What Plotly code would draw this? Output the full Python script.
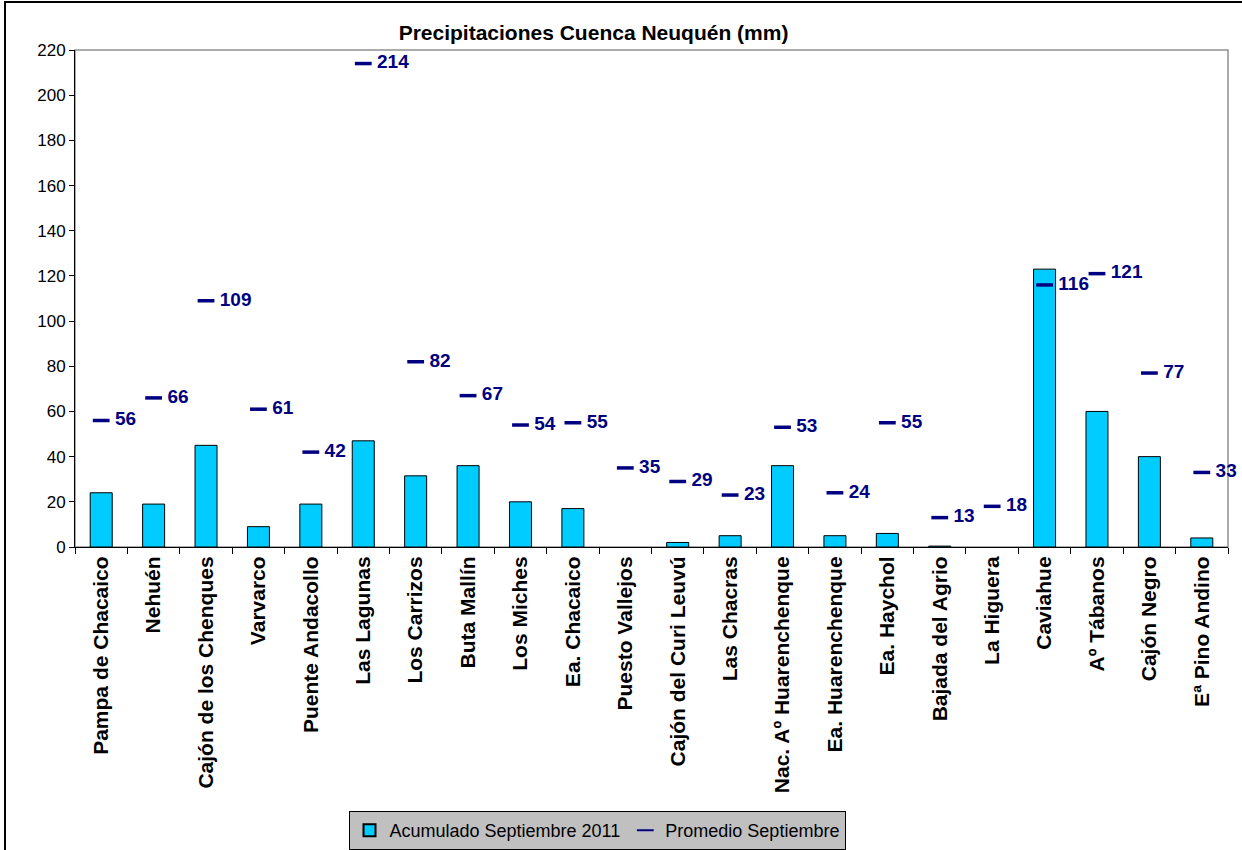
import plotly.graph_objects as go

estaciones = [
    "Pampa de Chacaico", "Nehuén", "Cajón de los Chenques", "Varvarco",
    "Puente Andacollo", "Las Lagunas", "Los Carrizos", "Buta Mallín",
    "Los Miches", "Ea. Chacaico", "Puesto Vallejos", "Cajón del Curi Leuvú",
    "Las Chacras", "Nac. Aº Huarenchenque", "Ea. Huarenchenque", "Ea. Haychol",
    "Bajada del Agrio", "La Higuera", "Caviahue", "Aº Tábanos",
    "Cajón Negro", "Eª Pino Andino",
]
# None = sin dato (no se dibuja barra)
acumulado_sep_2011 = [24, 19, 45, 9, 19, 47, 31.5, 36, 20, 17, None, 2,
                      5, 36, 5, 6, 0.4, None, 123, 60, 40, 4]
promedio_sep = [56, 66, 109, 61, 42, 214, 82, 67, 54, 55, 35, 29,
                23, 53, 24, 55, 13, 18, 116, 121, 77, 33]

W, H = 1242, 850
L, R, T, B = 75, 14, 50, 303
pw, ph = W - L - R, H - T - B


def px(x):
    return (x - L) / pw


def py(y):
    return (H - B - y) / ph


fuente = "Liberation Sans, Arial, sans-serif"

fig = go.Figure()

# barras: acumulado del mes
fig.add_trace(go.Bar(
    name="Acumulado Septiembre 2011",
    x=estaciones,
    y=acumulado_sep_2011,
    marker=dict(color="#00CCFF", line=dict(color="black", width=1)),
))

# promedio histórico: guion + valor
fig.add_trace(go.Scatter(
    name="Promedio Septiembre",
    x=estaciones,
    y=promedio_sep,
    mode="markers+text",
    text=[" " + str(v) for v in promedio_sep],
    textposition="middle right",
    textfont=dict(family=fuente, size=19, color="#000080", weight="bold"),
    marker=dict(symbol="line-ew", size=12, line=dict(color="#000080", width=3.5)),
    cliponaxis=False,
))

fig.update_layout(
    width=W, height=H,
    margin=dict(l=L, r=R, t=T, b=B, autoexpand=False),
    paper_bgcolor="white",
    plot_bgcolor="white",
    font=dict(family=fuente, color="black"),
    bargap=0.58,
    showlegend=True,
    title=dict(
        text="<b>Precipitaciones Cuenca Neuquén (mm)</b>",
        x=px(626), xanchor="center",
        y=1 - 33 / H, yanchor="middle",
        font=dict(size=21, family=fuente),
    ),
    legend=dict(
        orientation="h",
        x=px(597), xanchor="center",
        y=py(811), yanchor="top",
        bgcolor="#C0C0C0",
        bordercolor="black",
        borderwidth=1,
        font=dict(size=18, family=fuente),
        itemsizing="constant",
        traceorder="normal",
    ),
    xaxis=dict(
        type="category",
        tickangle=-90,
        tickfont=dict(size=21, family=fuente, weight="bold"),
        showline=True, linecolor="black", linewidth=1,
        ticks="outside", ticklen=6, tickcolor="black",
        tickson="boundaries",
        showgrid=False,
        range=[-0.5, len(estaciones) - 0.5],
        automargin=False,
    ),
    yaxis=dict(
        range=[0, 220],
        dtick=20,
        tickfont=dict(size=17, family=fuente),
        showline=True, linecolor="black", linewidth=1,
        ticks="outside", ticklen=5, tickcolor="black",
        showgrid=False,
        zeroline=False,
        automargin=False,
    ),
    shapes=[
        # borde del área de trazado (gris)
        dict(type="rect", xref="paper", yref="paper", x0=0, x1=1, y0=0, y1=1,
             line=dict(color="#909090", width=1.5), layer="below"),
        # borde exterior del gráfico
        dict(type="rect", xref="paper", yref="paper",
             x0=px(5), x1=px(1260), y0=py(2), y1=py(870),
             line=dict(color="black", width=2)),
    ],
)

# sin margen del body para que el gráfico ocupe la ventana exacta
fig.write_html("out.html", config={"displayModeBar": False},
               post_script="document.body.style.margin='0';")
